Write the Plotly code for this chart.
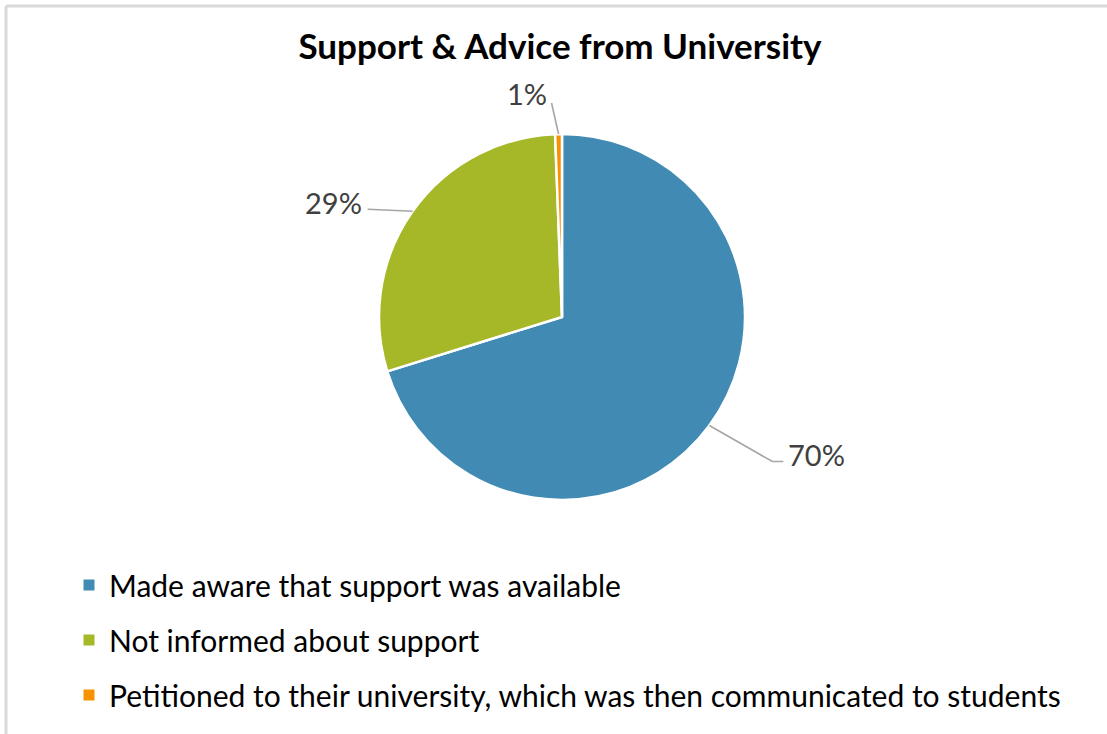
import math
import plotly.graph_objects as go

# ---- data ----
labels = [
    "Made aware that support was available",
    "Not informed about support",
    "Petitioned to their university, which was then communicated to students",
]
values = [70.2, 29.2, 0.6]
colors = ["#418AB3", "#A6B727", "#F69200"]
title_text = "Support & Advice from University"

# ---- layout geometry (pixels) ----
W, H = 1107, 734
CX, CY, R = 562, 317, 183
FONT = "Lato"

def px(x):
    return x / W

def py(y):
    return 1 - y / H

fig = go.Figure()
fig.add_trace(go.Pie(
    labels=labels, values=values, sort=False, direction="clockwise", rotation=0,
    marker=dict(colors=colors, line=dict(color="white", width=2.5)),
    textinfo="none", hoverinfo="label+percent", showlegend=False,
    domain=dict(x=[px(CX - R), px(CX + R)], y=[py(CY + R), py(CY - R)]),
))

# legend entries (square swatches)
for i, (lab, col) in enumerate(zip(labels, colors)):
    fig.add_trace(go.Scatter(
        x=[None], y=[None], mode="markers", name=lab, legendgroup=f"g{i}",
        marker=dict(symbol="square", size=11, color=col), showlegend=True,
    ))

# leader lines + percentage labels, computed from slice angles
total = sum(values)
label_style = [
    dict(elbow=(63, 36), tail=11, text=(3, -7), xanchor="left"),
    dict(elbow=(-45, -2), tail=0, text=(-4, -7), xanchor="right"),
    dict(elbow=(-7, -31), tail=0, text=(-3, -10), xanchor="right"),
]
shapes = []
annotations = []
cum = 0.0
for v, st in zip(values, label_style):
    mid = (cum + v / 2) / total * 2 * math.pi
    cum += v
    ex = CX + R * math.sin(mid)
    ey = CY - R * math.cos(mid)
    bx, by = ex + st["elbow"][0], ey + st["elbow"][1]
    side = 1 if math.sin(mid) >= 0 else -1
    tx, ty = bx + side * st["tail"], by
    path = f"M {px(ex)},{py(ey)} L {px(bx)},{py(by)} L {px(tx)},{py(ty)}"
    shapes.append(dict(type="path", xref="paper", yref="paper", path=path,
                       line=dict(color="#A6A6A6", width=1.6)))
    annotations.append(dict(
        x=px(tx + st["text"][0]), y=py(ty + st["text"][1]), xref="paper", yref="paper",
        text=f"{round(v / total * 100)}%", showarrow=False,
        xanchor=st["xanchor"], yanchor="middle",
        font=dict(family=FONT, size=29, color="#404040"),
    ))

# chart frame edges (top & left visible)
shapes.append(dict(type="line", xref="paper", yref="paper", x0=px(6), x1=1, y0=py(6), y1=py(6),
                   line=dict(color="#D9D9D9", width=3)))
shapes.append(dict(type="line", xref="paper", yref="paper", x0=px(6), x1=px(6), y0=0, y1=py(6),
                   line=dict(color="#D9D9D9", width=3)))

fig.update_layout(
    width=W, height=H,
    margin=dict(l=0, r=0, t=0, b=0),
    paper_bgcolor="white", plot_bgcolor="white",
    title=dict(text=f"<b>{title_text}</b>", x=px(560), y=py(47), xanchor="center", yanchor="middle",
               xref="paper", yref="container",
               font=dict(family=FONT, size=35, color="#000000")),
    xaxis=dict(visible=False), yaxis=dict(visible=False),
    legend=dict(x=px(69), y=py(559), xanchor="left", yanchor="top",
                font=dict(family=FONT, size=30, color="#000000"),
                tracegroupgap=13, bgcolor="rgba(0,0,0,0)", itemclick=False),
    shapes=shapes, annotations=annotations,
    showlegend=True,
)

fig.write_html("out.html")
